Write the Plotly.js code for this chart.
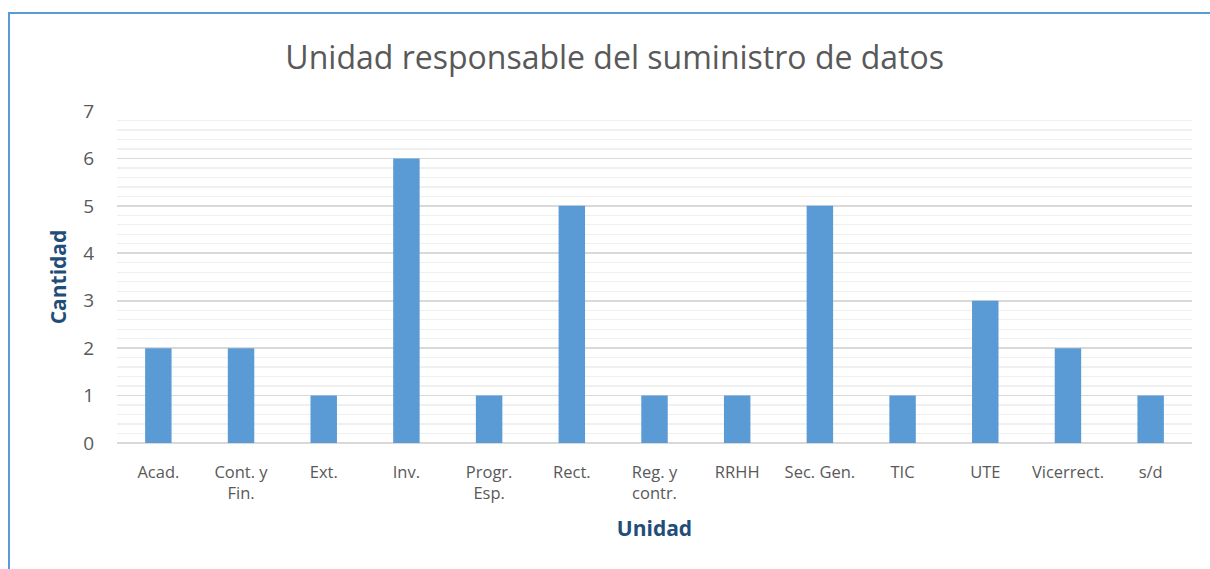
<!DOCTYPE html>
<html>
<head>
<meta charset="utf-8">
<script src="https://cdn.plot.ly/plotly-3.0.1.min.js"></script>
<style>
  html, body { margin: 0; padding: 0; background: #fff; }
  #wrap { position: relative; width: 1210px; height: 569px; overflow: hidden; }
  #chart { width: 1210px; height: 569px; }
  #frame { position: absolute; left: 8px; top: 12px; width: 1300px; height: 700px;
           border-left: 2px solid #5b9bd5; border-top: 2px solid #5b9bd5; pointer-events: none; }
</style>
</head>
<body>
<div id="wrap">
  <div id="chart"></div>
  <div id="frame"></div>
</div>
<script>
const categories = ["Acad.", "Cont. y<br>Fin.", "Ext.", "Inv.", "Progr.<br>Esp.", "Rect.",
                    "Reg. y<br>contr.", "RRHH", "Sec. Gen.", "TIC", "UTE", "Vicerrect.", "s/d"];
const cantidad = [2, 2, 1, 6, 1, 5, 1, 1, 5, 1, 3, 2, 1];
const yTicks = [0, 1, 2, 3, 4, 5, 6, 7];

const fontFam = "Open Sans, Noto Sans, sans-serif";

const trace = {
  type: "bar",
  x: categories,
  y: cantidad,
  marker: { color: "#5b9bd5" },
  hoverinfo: "x+y"
};

const layout = {
  width: 1210,
  height: 569,
  margin: { l: 117, r: 18, t: 111, b: 126 },
  paper_bgcolor: "rgba(0,0,0,0)",
  plot_bgcolor: "rgba(0,0,0,0)",
  bargap: 0.68,
  showlegend: false,
  title: {
    text: "Unidad responsable del suministro de datos",
    font: { family: fontFam, size: 32, color: "#595959" },
    x: 0.508, xanchor: "center",
    y: 0.898, yanchor: "middle"
  },
  xaxis: {
    type: "category",
    tickfont: { family: fontFam, size: 16.5, color: "#595959" },
    ticks: "outside", ticklen: 14, tickcolor: "rgba(0,0,0,0)",
    showgrid: false,
    showline: false,
    title: {
      text: "<b>Unidad</b>",
      font: { family: fontFam, size: 21, color: "#1f4e79" },
      standoff: 18
    }
  },
  yaxis: {
    range: [0, 7],
    tickvals: yTicks,
    tickfont: { family: fontFam, size: 19, color: "#595959" },
    ticks: "outside", ticklen: 18, tickcolor: "rgba(0,0,0,0)",
    showgrid: true,
    gridcolor: "#d9d9d9",
    gridwidth: 1.6,
    zeroline: true,
    zerolinecolor: "#d9d9d9",
    zerolinewidth: 1.6,
    minor: { dtick: 0.2, showgrid: true, gridcolor: "#f0f0f0", gridwidth: 1.3 },
    title: {
      text: "<b>Cantidad</b>",
      font: { family: fontFam, size: 21, color: "#1f4e79" },
      standoff: 10
    }
  }
};

Plotly.newPlot("chart", [trace], layout, { displayModeBar: false, staticPlot: true });
</script>
</body>
</html>
